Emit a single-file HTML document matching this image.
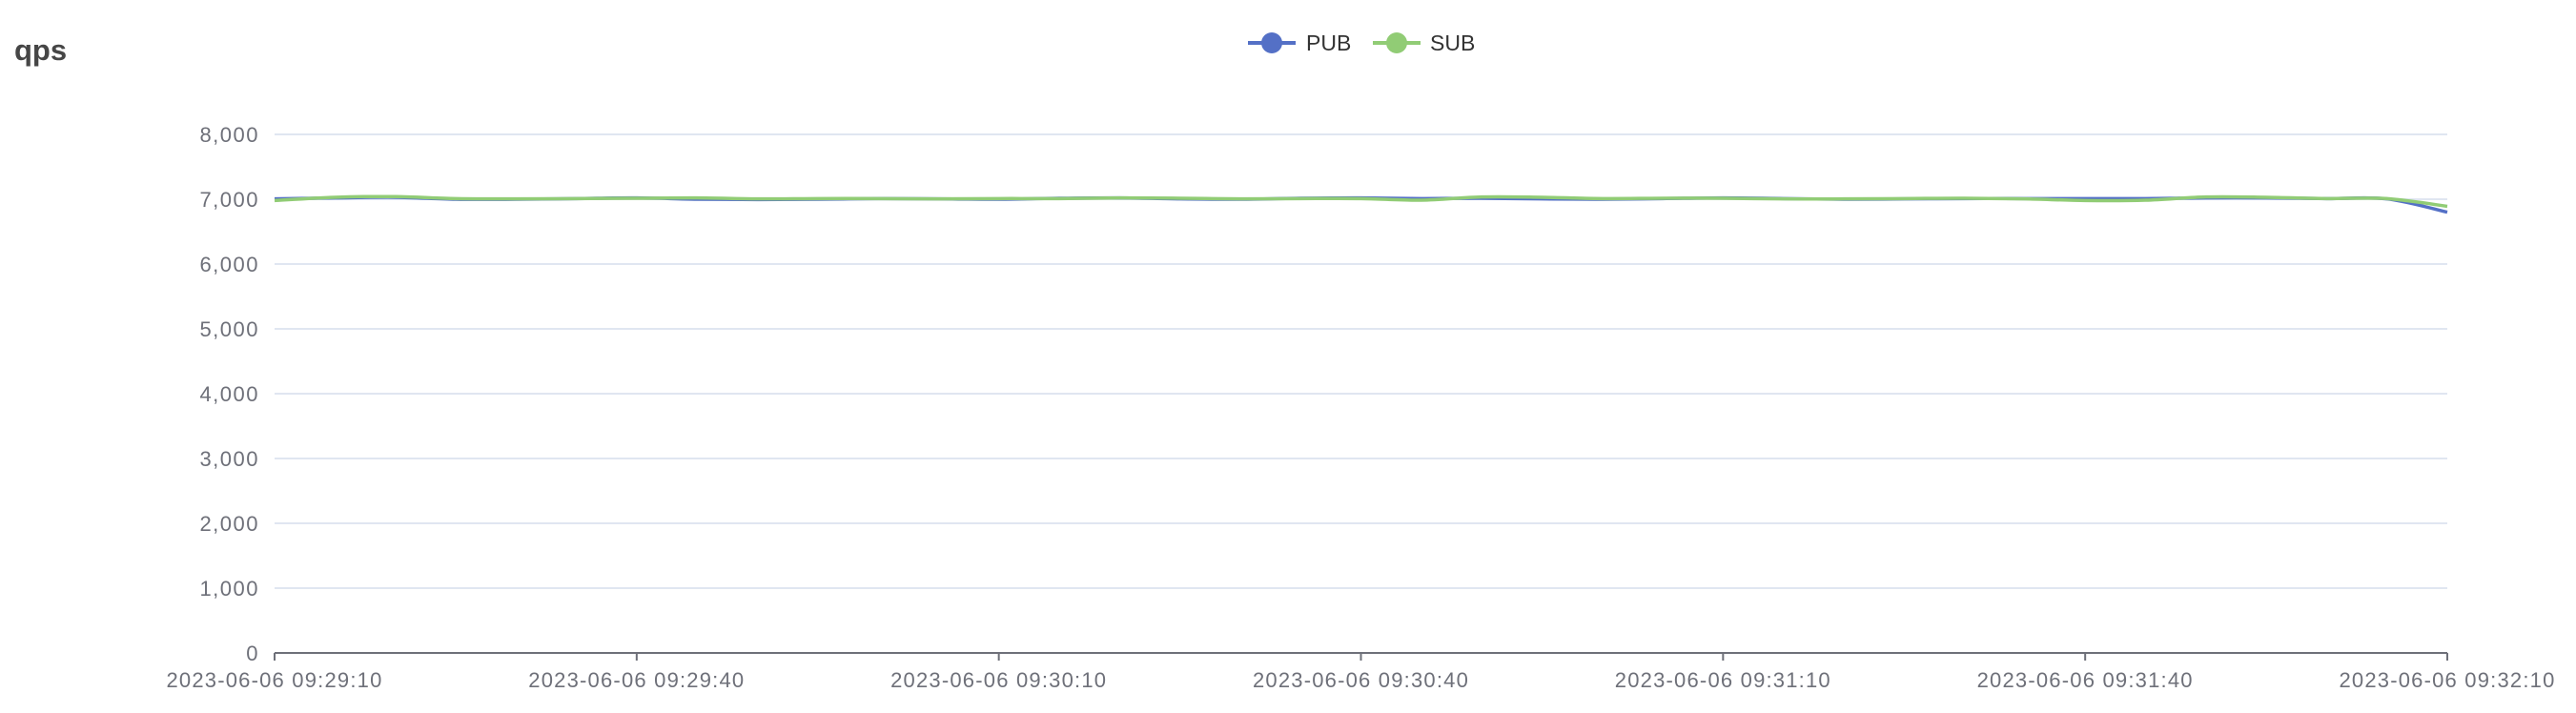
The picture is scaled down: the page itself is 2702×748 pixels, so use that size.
<!DOCTYPE html>
<html><head><meta charset="utf-8"><style>
html,body{margin:0;padding:0;background:#fff;}
svg{display:block;font-family:"Liberation Sans",sans-serif;}
</style></head><body>
<svg id="chart" width="2702" height="748" viewBox="0 0 2702 748">
<text x="15" y="63" font-size="31" font-weight="bold" fill="#464646">qps</text>
<g>
<g>
<line x1="1309" y1="45" x2="1359" y2="45" stroke="#5470c6" stroke-width="4"/>
<circle cx="1334" cy="45" r="11" fill="#5470c6"/>
<text x="1370" y="53" font-size="23" fill="#333">PUB</text></g>
<g>
<line x1="1440" y1="45" x2="1490" y2="45" stroke="#91cc75" stroke-width="4"/>
<circle cx="1465" cy="45" r="11" fill="#91cc75"/>
<text x="1500" y="53" font-size="23" fill="#333">SUB</text></g>
</g>
<g id="grid"></g>
<g id="yaxis"></g>
<g id="xaxis"></g>
<g id="series"></g>
</svg>
<script>
const yTicks = [0,1000,2000,3000,4000,5000,6000,7000,8000];
const xTickLabels = ["2023-06-06 09:29:10","2023-06-06 09:29:40","2023-06-06 09:30:10","2023-06-06 09:30:40","2023-06-06 09:31:10","2023-06-06 09:31:40","2023-06-06 09:32:10"];
const pubValues = [7005,7020,7030,7000,7000,7010,7020,7000,6995,7000,7010,7005,7000,7015,7020,7005,7000,7015,7020,7010,7015,7005,7000,7010,7020,7010,7000,7005,7010,7010,7010,7010,7020,7020,7010,7005,6800];
const subValues = [6980,7030,7040,7010,7005,7010,7015,7020,7005,7010,7010,7005,7010,7010,7020,7015,7005,7010,7010,6985,7035,7030,7010,7015,7015,7005,7005,7010,7015,7005,6980,6985,7035,7030,7010,7010,6890];

const NS="http://www.w3.org/2000/svg";
const X0=288,X1=2567,Y0=685,Y1=141,YMAX=8000;
const xScale=i=>X0+(X1-X0)*i/(pubValues.length-1);
const xTickScale=i=>X0+(X1-X0)*i/(xTickLabels.length-1);
const yScale=v=>Y0-(Y0-Y1)*v/YMAX;
function mk(tag,attrs,parent){const e=document.createElementNS(NS,tag);for(const k in attrs)e.setAttribute(k,attrs[k]);parent.appendChild(e);return e;}
const grid=document.getElementById('grid'),ya=document.getElementById('yaxis'),xa=document.getElementById('xaxis'),ser=document.getElementById('series');
yTicks.forEach(v=>{
  if(v>0){const l=mk('line',{x1:X0,x2:X1,y1:yScale(v),y2:yScale(v),stroke:'#e0e6f1','stroke-width':2},grid);
  
  }
  const t=mk('text',{x:272,y:yScale(v)+8,'text-anchor':'end','font-size':22,'letter-spacing':1.5,fill:'#6e7079'},ya);
  t.textContent=v.toLocaleString('en-US');
  
  
});
const ax=mk('line',{x1:X0,x2:X1,y1:Y0,y2:Y0,stroke:'#6e7079','stroke-width':2},xa);


xTickLabels.forEach((s,i)=>{
  const x=xTickScale(i);
  const tk=mk('line',{x1:x,x2:x,y1:Y0,y2:Y0+8,stroke:'#6e7079','stroke-width':2},xa);
  
  
  const t=mk('text',{x:x,y:721,'text-anchor':'middle','font-size':22,'letter-spacing':1.2,fill:'#6e7079'},xa);
  t.textContent=s;
  
  
});
function path(vals){
  const p=vals.map((v,i)=>[xScale(i),yScale(v)]);
  let d=`M${p[0][0]},${p[0][1]}`;
  for(let i=0;i<p.length-1;i++){
    const a=p[Math.max(0,i-1)],b=p[i],c=p[i+1],e=p[Math.min(p.length-1,i+2)];
    const c1=[b[0]+(c[0]-a[0])/6,b[1]+(c[1]-a[1])/6],c2=[c[0]-(e[0]-b[0])/6,c[1]-(e[1]-b[1])/6];
    d+=` C${c1[0]},${c1[1]} ${c2[0]},${c2[1]} ${c[0]},${c[1]}`;
  }
  return d;
}
const pl=mk('path',{d:path(pubValues),fill:'none',stroke:'#5470c6','stroke-width':3.5,'stroke-linejoin':'round'},ser);


const sl=mk('path',{d:path(subValues),fill:'none',stroke:'#91cc75','stroke-width':3.5,'stroke-linejoin':'round'},ser);


</script>
</body></html>
